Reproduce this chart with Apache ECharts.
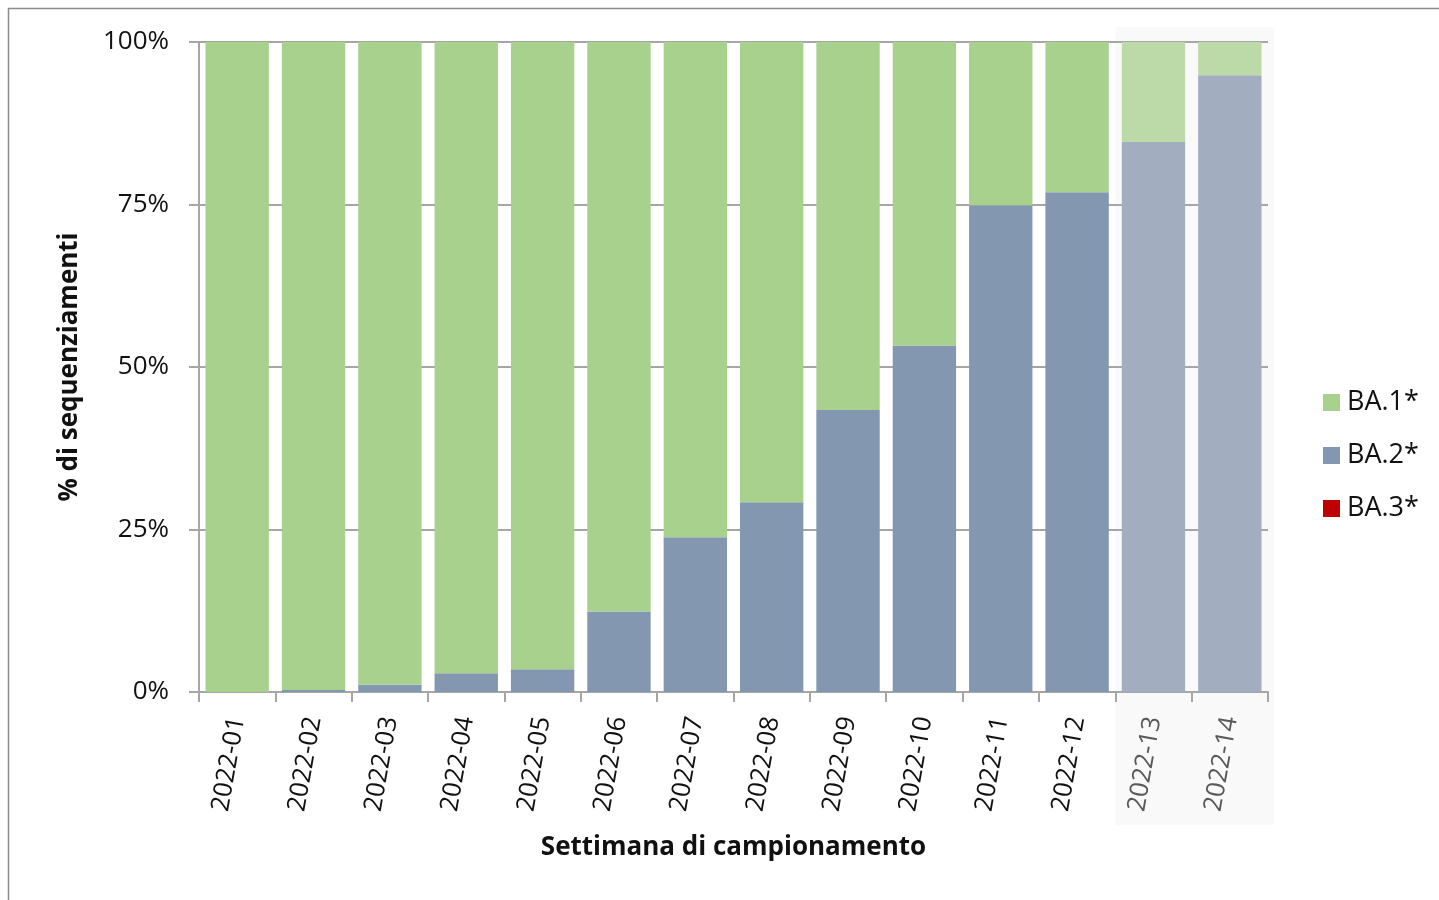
<!DOCTYPE html>
<html>
<head>
<meta charset="utf-8">
<script src="https://cdn.jsdelivr.net/npm/echarts@6/dist/echarts.min.js"></script>
<style>
html,body{margin:0;padding:0;background:#fff;}
#chart{width:1439px;height:900px;}
</style>
</head>
<body>
<div id="chart"></div>
<script>
var categories = ['2022-01','2022-02','2022-03','2022-04','2022-05','2022-06','2022-07','2022-08','2022-09','2022-10','2022-11','2022-12','2022-13','2022-14'];
var ba1 = [100, 99.7, 98.9, 97.1, 96.5, 87.6, 76.2, 70.8, 56.6, 46.7, 25.1, 23.1, 15.4, 5.1];
var ba2 = [0, 0.3, 1.1, 2.9, 3.5, 12.4, 23.8, 29.2, 43.4, 53.3, 74.9, 76.9, 84.6, 94.9];
var ba3 = [0, 0, 0, 0, 0, 0, 0, 0, 0, 0, 0, 0, 0, 0];
var provisional = [false,false,false,false,false,false,false,false,false,false,false,false,true,true];
var yTicks = [0, 25, 50, 75, 100];

var FONT = '"Open Sans", sans-serif';
var C1 = '#a9d18e', C1L = '#bcd9a8';
var C2 = '#8497b0', C2L = '#a2aebf';
var C3 = '#c00000';

function items(vals, col, colL) {
  return vals.map(function (v, i) {
    return { value: v, itemStyle: { color: provisional[i] ? colL : col } };
  });
}

var chart = echarts.init(document.getElementById('chart'), null, {renderer: 'canvas'});
var option = {
  backgroundColor: '#ffffff',
  animation: false,
  grid: { left: 199, top: 42, right: 171, bottom: 208, containLabel: false },
  legend: {
    orient: 'vertical',
    left: 1318, top: 384,
    itemWidth: 17, itemHeight: 17, itemGap: 26,
    icon: 'rect',
    data: ['BA.1*', 'BA.2*', 'BA.3*'],
    textStyle: { fontFamily: FONT, fontSize: 27, color: '#111111', padding: [0,0,0,2] }
  },
  xAxis: {
    type: 'category',
    data: categories,
    name: 'Settimana di campionamento',
    nameLocation: 'middle',
    nameGap: 143,
    nameTextStyle: { fontFamily: FONT, fontSize: 26, fontWeight: 'bold', color: '#111111' },
    axisLine: { lineStyle: { color: '#a6a6a6', width: 2 } },
    axisTick: { show: true, alignWithLabel: false, length: 10, lineStyle: { color: '#a6a6a6', width: 2 } },
    axisLabel: {
      rotate: 80, margin: 25, fontFamily: FONT, fontSize: 25.5,
      color: function (v, i) { return provisional[categories.indexOf(v)] ? '#595959' : '#111111'; },
      interval: 0
    },
    splitLine: { show: false }
  },
  yAxis: {
    type: 'value',
    min: yTicks[0], max: yTicks[yTicks.length - 1], interval: 25,
    name: '% di sequenziamenti',
    nameLocation: 'middle',
    nameGap: 116,
    nameTextStyle: { fontFamily: FONT, fontSize: 26, fontWeight: 'bold', color: '#111111' },
    axisLine: { show: true, lineStyle: { color: '#a6a6a6', width: 2 } },
    axisTick: { show: true, length: 10, lineStyle: { color: '#a6a6a6', width: 2 } },
    axisLabel: { formatter: '{value}%', margin: 30, fontFamily: FONT, fontSize: 26, color: '#111111' },
    splitLine: { show: true, lineStyle: { color: '#a6a6a6', width: 2 } }
  },
  series: [
    { name: 'BA.2*', type: 'bar', stack: 'v', barCategoryGap: '17%', data: items(ba2, C2, C2L), itemStyle: { color: C2 } },
    { name: 'BA.1*', type: 'bar', stack: 'v', barCategoryGap: '17%', data: items(ba1, C1, C1L), itemStyle: { color: C1 } },
    { name: 'BA.3*', type: 'bar', stack: 'v', barCategoryGap: '17%', data: ba3, itemStyle: { color: C3 } }
  ]
};
chart.setOption(option);

// shaded background behind provisional weeks, positioned from the axis scale
var firstP = provisional.indexOf(true);
var p0 = chart.convertToPixel({ xAxisIndex: 0 }, categories[firstP]);
var p1 = chart.convertToPixel({ xAxisIndex: 0 }, categories[categories.length - 1]);
var band = chart.convertToPixel({ xAxisIndex: 0 }, categories[1]) - chart.convertToPixel({ xAxisIndex: 0 }, categories[0]);
var yTop = chart.convertToPixel({ yAxisIndex: 0 }, yTicks[yTicks.length - 1]);
var yBot = chart.convertToPixel({ yAxisIndex: 0 }, yTicks[0]);

chart.setOption({
  graphic: [
    { type: 'rect', z: -10, silent: true,
      shape: { x: p0 - band / 2, y: yTop - 15, width: (p1 - p0) + band + 6, height: (yBot - yTop) + 15 + 133 },
      style: { fill: '#f9f9f9' } },
    { type: 'rect', z: -20, silent: true,
      shape: { x: 8.5, y: 8.5, width: 1600, height: 1000 },
      style: { fill: 'none', stroke: '#8c8c8c', lineWidth: 1.5 } }
  ]
});
</script>
</body>
</html>
